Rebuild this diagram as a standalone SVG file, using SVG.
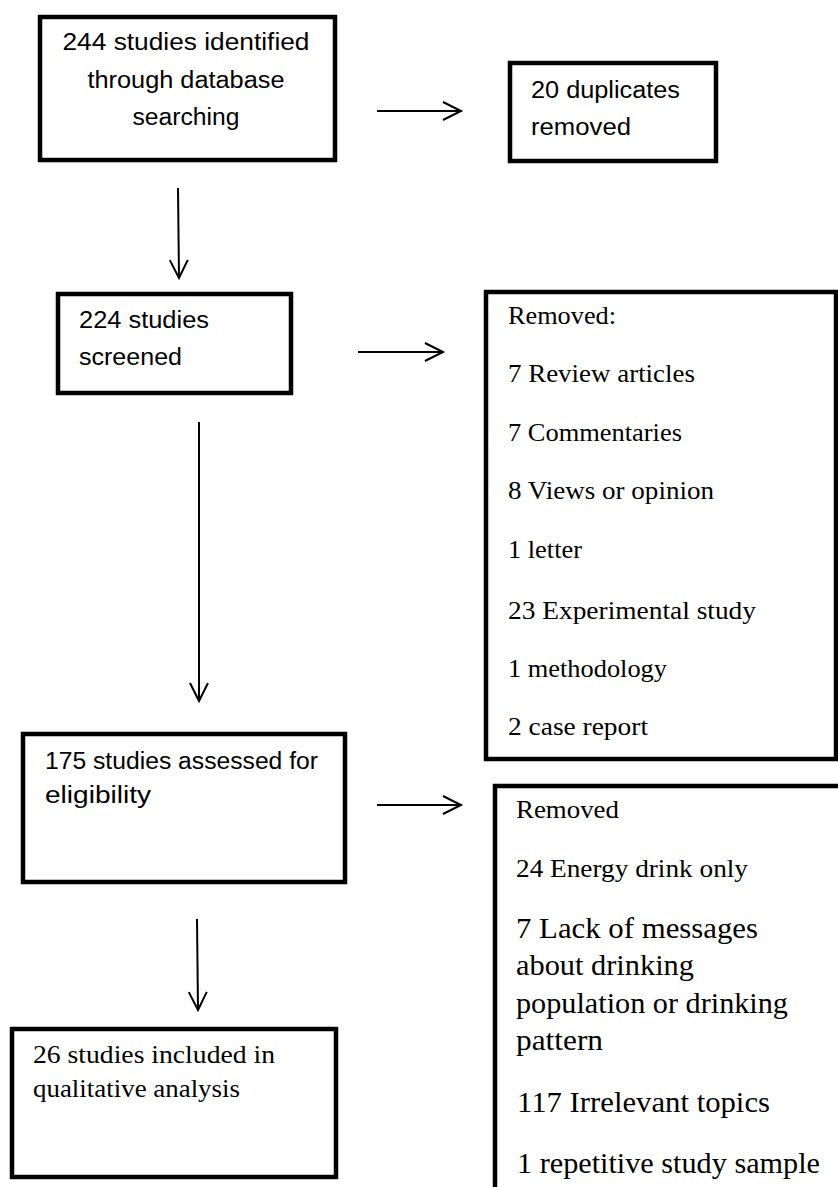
<svg xmlns="http://www.w3.org/2000/svg" width="838" height="1187" viewBox="0 0 838 1187">
<style>
.box{fill:#fff;stroke:#000;stroke-width:4.5}
text{lengthAdjust:spacingAndGlyphs}
.cal{font-family:"Liberation Sans",Arial,sans-serif;font-size:23px;fill:#000}
.tnr{font-family:"Liberation Serif","Times New Roman",serif;font-size:25px;fill:#000}
.tnr2{font-family:"Liberation Serif","Times New Roman",serif;font-size:29px;fill:#000}
.conn{stroke:#000;stroke-width:2;fill:none}
</style>
<defs>
<marker id="ah" markerUnits="userSpaceOnUse" markerWidth="24" markerHeight="24" viewBox="0 0 24 24" refX="20" refY="12" orient="auto">
<path d="M2,3 L20,12 L2,21" fill="none" stroke="#000" stroke-width="2"/>
</marker>
</defs>
<rect width="838" height="1187" fill="#fff"/>
<g id="connectors">
<line class="conn" x1="377" y1="111" x2="461" y2="111" marker-end="url(#ah)"/>
<line class="conn" x1="178" y1="188" x2="179" y2="278" marker-end="url(#ah)"/>
<line class="conn" x1="358" y1="352" x2="443" y2="352" marker-end="url(#ah)"/>
<line class="conn" x1="199" y1="422" x2="199" y2="701" marker-end="url(#ah)"/>
<line class="conn" x1="377" y1="805" x2="461" y2="805" marker-end="url(#ah)"/>
<line class="conn" x1="197" y1="919" x2="198" y2="1010" marker-end="url(#ah)"/>
</g>
<g id="n1">
<rect class="box" x="40" y="17" width="295" height="143"/>
<text class="cal" x="186" y="50" text-anchor="middle" textLength="247" lengthAdjust="spacingAndGlyphs">244 studies identified</text>
<text class="cal" x="186" y="88" text-anchor="middle" textLength="197" lengthAdjust="spacingAndGlyphs">through database</text>
<text class="cal" x="186" y="125" text-anchor="middle" textLength="107" lengthAdjust="spacingAndGlyphs">searching</text>
</g>
<g id="n2">
<rect class="box" x="510" y="63" width="206" height="98"/>
<text class="cal" x="531" y="98" textLength="149" lengthAdjust="spacingAndGlyphs">20 duplicates</text>
<text class="cal" x="531" y="135" textLength="100" lengthAdjust="spacingAndGlyphs">removed</text>
</g>
<g id="n3">
<rect class="box" x="58" y="294" width="233" height="99"/>
<text class="cal" x="79" y="328" textLength="130" lengthAdjust="spacingAndGlyphs">224 studies</text>
<text class="cal" x="79" y="365" textLength="103" lengthAdjust="spacingAndGlyphs">screened</text>
</g>
<g id="n4">
<rect class="box" x="486" y="292" width="350" height="467"/>
<text class="tnr" x="508" y="324" textLength="108" lengthAdjust="spacingAndGlyphs">Removed:</text>
<text class="tnr" x="508" y="382" textLength="187" lengthAdjust="spacingAndGlyphs">7 Review articles</text>
<text class="tnr" x="508" y="441" textLength="174" lengthAdjust="spacingAndGlyphs">7 Commentaries</text>
<text class="tnr" x="508" y="499" textLength="206" lengthAdjust="spacingAndGlyphs">8 Views or opinion</text>
<text class="tnr" x="508" y="558" textLength="74" lengthAdjust="spacingAndGlyphs">1 letter</text>
<text class="tnr" x="508" y="619" textLength="248" lengthAdjust="spacingAndGlyphs">23 Experimental study</text>
<text class="tnr" x="508" y="677" textLength="159" lengthAdjust="spacingAndGlyphs">1 methodology</text>
<text class="tnr" x="508" y="735" textLength="140" lengthAdjust="spacingAndGlyphs">2 case report</text>
</g>
<g id="n5">
<rect class="box" x="23" y="734" width="322" height="148"/>
<text class="cal" x="45" y="769" textLength="273" lengthAdjust="spacingAndGlyphs">175 studies assessed for</text>
<text class="cal" x="45" y="803" textLength="106" lengthAdjust="spacingAndGlyphs">eligibility</text>
</g>
<g id="n6">
<rect class="box" x="495" y="786" width="360" height="420"/>
<text class="tnr" x="516" y="818" textLength="103" lengthAdjust="spacingAndGlyphs">Removed</text>
<text class="tnr" x="516" y="877" textLength="232" lengthAdjust="spacingAndGlyphs">24 Energy drink only</text>
<text class="tnr2" x="516" y="938" textLength="242" lengthAdjust="spacingAndGlyphs">7 Lack of messages</text>
<text class="tnr2" x="516" y="975" textLength="178" lengthAdjust="spacingAndGlyphs">about drinking</text>
<text class="tnr2" x="516" y="1013" textLength="272" lengthAdjust="spacingAndGlyphs">population or drinking</text>
<text class="tnr2" x="516" y="1050" textLength="87" lengthAdjust="spacingAndGlyphs">pattern</text>
<text class="tnr2" x="517" y="1112" textLength="253" lengthAdjust="spacingAndGlyphs">117 Irrelevant topics</text>
<text class="tnr2" x="517" y="1173" textLength="303" lengthAdjust="spacingAndGlyphs">1 repetitive study sample</text>
</g>
<g id="n7">
<rect class="box" x="12" y="1029" width="324" height="148"/>
<text class="tnr" x="33" y="1063" textLength="242" lengthAdjust="spacingAndGlyphs">26 studies included in</text>
<text class="tnr" x="33" y="1097" textLength="207" lengthAdjust="spacingAndGlyphs">qualitative analysis</text>
</g>
</svg>
